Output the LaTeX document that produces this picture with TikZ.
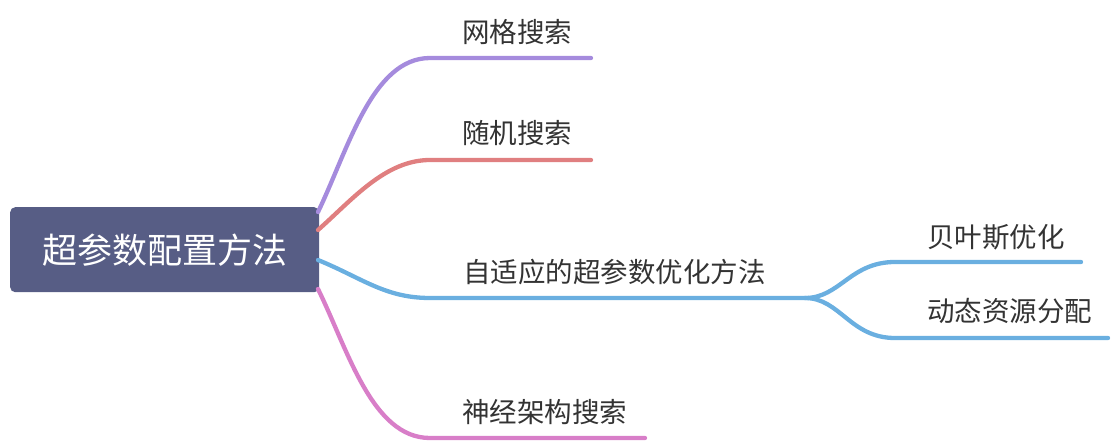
\documentclass[tikz,border=0pt]{standalone}
\usepackage{fontspec}
\newfontfamily\cjk{Noto Sans CJK SC}
\definecolor{rootfill}{HTML}{575D85}
\definecolor{cpurple}{HTML}{A58BDD}
\definecolor{cred}{HTML}{E07F80}
\definecolor{cblue}{HTML}{6AAFE0}
\definecolor{cpink}{HTML}{D87EC8}
\definecolor{txt}{HTML}{333333}
\tikzset{
  branch/.style={line width=4.3pt, line cap=round},
  label/.style={anchor=west, inner sep=0pt, text=txt, font=\cjk\fontsize{27.5}{31}\selectfont},
}
\begin{document}
\begin{tikzpicture}[x=1pt,y=-1pt]
\useasboundingbox (0,0) rectangle (1118,444);
\node[fill=rootfill, rounded corners=5pt, minimum width=309pt, minimum height=85pt, anchor=north west, inner sep=0pt, text=white, font=\cjk\fontsize{35}{39}\selectfont] (root) at (10,207) {超参数配置方法};
\coordinate (r1) at (318,212);
\coordinate (r2) at (318,230);
\coordinate (r3) at (318,260);
\coordinate (r4) at (318,289);
% purple
\coordinate (a1) at (430,58); \coordinate (a2) at (591,58);
\draw[branch, cpurple] (r1) .. controls (348,150) and (372,58) .. (a1) -- (a2);
\node[label] (na) at (462,32) {网格搜索};
% red
\coordinate (b1) at (430,160); \coordinate (b2) at (591,160);
\draw[branch, cred] (r2) .. controls (352,200) and (385,160) .. (b1) -- (b2);
\node[label] (nb) at (462,133) {随机搜索};
% blue
\coordinate (c1) at (430,298); \coordinate (c2) at (805,298);
\draw[branch, cblue] (r3) .. controls (362,278) and (385,298) .. (c1) -- (c2);
\node[label] (nc) at (463,272) {自适应的超参数优化方法};
\coordinate (d1) at (895,262); \coordinate (d2) at (1081,262);
\coordinate (e1) at (895,338); \coordinate (e2) at (1108,338);
\draw[branch, cblue] (c2) .. controls (840,298) and (850,262) .. (d1) -- (d2);
\draw[branch, cblue] (c2) .. controls (840,298) and (850,338) .. (e1) -- (e2);
\node[label] (nd) at (927,237) {贝叶斯优化};
\node[label] (ne) at (927,311) {动态资源分配};
% pink
\coordinate (f1) at (430,438); \coordinate (f2) at (645,438);
\draw[branch, cpink] (r4) .. controls (348,350) and (372,438) .. (f1) -- (f2);
\node[label] (nf) at (462,412) {神经架构搜索};
\end{tikzpicture}
\end{document}
